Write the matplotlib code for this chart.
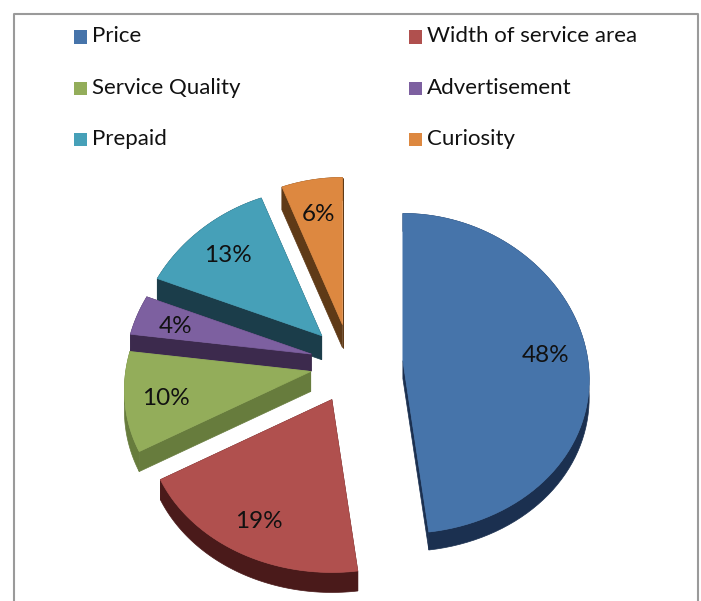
import matplotlib
matplotlib.use('Agg')

import matplotlib.pyplot as plt
import numpy as np
from matplotlib.patches import Polygon, Rectangle

categories = ["Price", "Width of service area", "Service Quality",
              "Advertisement", "Prepaid", "Curiosity"]
shares = [48, 19, 10, 4, 13, 6]

top_colors = ["#4674aa", "#b0504e", "#93ad5a", "#7d60a0", "#46a0b8", "#dd8840"]
side_colors = ["#1b3050", "#4a1a1a", "#677c3d", "#3c2a4d", "#1b3d4a", "#5f3a17"]
explode = [53, 40, 40, 40, 40, 40]
depths = [18, 20, 20, 17, 24, 23]

center_x, center_y = 350, 364
radius_x, radius_y = 185, 160

legend_x = [74, 409, 74, 409, 74, 409]
legend_y = [36.5, 36.5, 88, 88, 139, 139]


def rim(theta):
    # tilted disc: the near side of the pie comes out a bit larger than the far side
    x = radius_x * np.sin(theta) * (1 - 0.12 * np.cos(theta))
    y = -radius_y * np.cos(theta) * (1 - 0.08 * np.cos(theta))
    return x, y


plt.rcParams['font.family'] = ['Lato', 'DejaVu Sans']

fig = plt.figure(figsize=(7.01, 6.01), dpi=100)
ax = fig.add_axes([0, 0, 1, 1])
ax.set_xlim(0, 701)
ax.set_ylim(601, 0)
ax.axis('off')

# chart frame, the bottom edge runs off the figure
ax.plot([14, 14, 698, 698], [601, 14, 14, 601], color="#9a9a9a", lw=1.5)

edges = np.cumsum([0] + shares) / sum(shares) * 2 * np.pi
# slices go clockwise from 12 o'clock, far ones drawn first
order = [5, 4, 3, 2, 1, 0]

for i in order:
    start, end = edges[i], edges[i + 1]
    mid = (start + end) / 2
    apex = np.array([center_x + explode[i] * np.sin(mid), center_y - explode[i] * np.cos(mid)])

    rx, ry = rim(np.linspace(start, end, 80))
    arc = apex + np.column_stack([rx, ry])
    drop = np.array([0, depths[i]])

    # side walls: the outer strip and the two cut faces
    walls = [
        np.vstack([arc, (arc + drop)[::-1]]),
        np.array([apex, arc[0], arc[0] + drop, apex + drop]),
        np.array([apex, arc[-1], arc[-1] + drop, apex + drop]),
    ]
    for wall in walls:
        ax.add_patch(Polygon(wall, closed=True, facecolor=side_colors[i],
                             edgecolor=side_colors[i], linewidth=0.5))
    ax.add_patch(Polygon(np.vstack([apex, arc]), closed=True, facecolor=top_colors[i],
                         edgecolor=top_colors[i], linewidth=0.5))

    lx, ly = rim(mid)
    ax.text(apex[0] + 0.78 * lx, apex[1] + 0.78 * ly + 3, f"{shares[i]}%", fontsize=17.5,
            color="#111111", ha='center', va='center')

for i, name in enumerate(categories):
    ax.add_patch(Rectangle((legend_x[i], legend_y[i] - 6.5), 13, 13.5, facecolor=top_colors[i],
                           edgecolor='none'))
    ax.text(legend_x[i] + 18, legend_y[i], name, fontsize=16, color="#111111",
            ha='left', va='center')

fig.savefig("out.png", dpi=100)
plt.close(fig)
